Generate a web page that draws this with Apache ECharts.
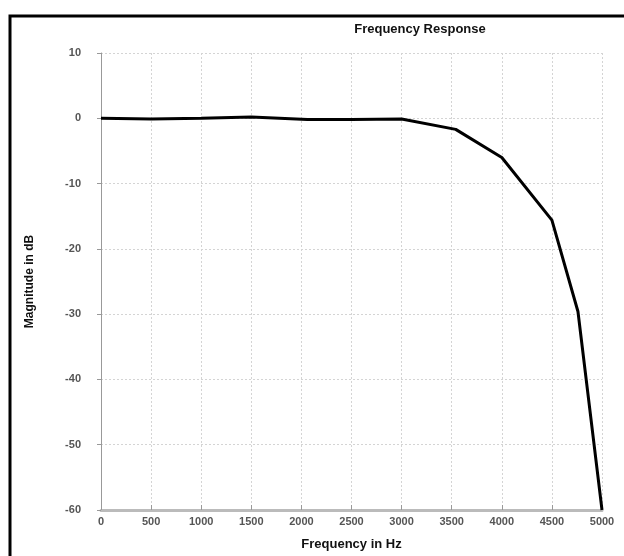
<!DOCTYPE html>
<html><head><meta charset="utf-8">
<script src="https://cdn.jsdelivr.net/npm/echarts@6/dist/echarts.min.js"></script>
<style>html,body{margin:0;padding:0;background:#fff}#c{width:624px;height:556px}</style>
</head><body><div id="c"></div>
<script>
const frequencies = [0, 500, 1000, 1500, 2060, 2500, 3000, 3540, 4000, 4500, 4760, 5000];
const magnitudes  = [0, -0.1, 0, 0.2, -0.2, -0.2, -0.1, -1.7, -6.0, -15.6, -29.6, -60];
const xTicks = [0, 500, 1000, 1500, 2000, 2500, 3000, 3500, 4000, 4500, 5000];
const yTicks = [10, 0, -10, -20, -30, -40, -50, -60];

const chart = echarts.init(document.getElementById('c'), null, {renderer: 'canvas'});
const font = 'Liberation Sans, Arial, sans-serif';
chart.setOption({
  animation: false,
  backgroundColor: '#fff',
  title: {
    text: 'Frequency Response', left: 415, top: 18, textAlign: 'center',
    textStyle: {fontFamily: font, fontSize: 13, fontWeight: 'bold', color: '#111'}
  },
  graphic: [{
    type: 'rect', shape: {x: 10, y: 16, width: 700, height: 600},
    style: {fill: 'none', stroke: '#000', lineWidth: 3}, silent: true
  }],
  grid: {left: 101, right: 22, top: 53, bottom: 46},
  xAxis: {
    type: 'value', min: xTicks[0], max: xTicks[xTicks.length - 1], interval: 500,
    name: 'Frequency in Hz', nameLocation: 'middle', nameGap: 28,
    nameTextStyle: {fontFamily: font, fontSize: 13, fontWeight: 'bold', color: '#111'},
    axisLine: {onZero: false, lineStyle: {color: '#bbb', width: 3}},
    axisTick: {show: true, inside: true, length: 5, lineStyle: {color: '#999'}},
    axisLabel: {fontFamily: font, fontSize: 11, fontWeight: 'bold', color: '#555', margin: 6,
      formatter: v => String(v)},
    splitLine: {show: true, lineStyle: {color: '#d4d4d4', type: [2, 2], width: 1}}
  },
  yAxis: {
    type: 'value', min: yTicks[yTicks.length - 1], max: yTicks[0], interval: 10,
    name: 'Magnitude in dB', nameLocation: 'middle', nameGap: 65, nameRotate: 90,
    nameTextStyle: {fontFamily: font, fontSize: 12, fontWeight: 'bold', color: '#111'},
    axisLine: {show: true, lineStyle: {color: '#999', width: 1}},
    axisTick: {show: true, length: 4, lineStyle: {color: '#999'}},
    axisLabel: {fontFamily: font, fontSize: 11, fontWeight: 'bold', color: '#555', margin: 20},
    splitLine: {show: true, lineStyle: {color: '#d4d4d4', type: [2, 2], width: 1}}
  },
  series: [{
    type: 'line',
    data: frequencies.map((f, i) => [f, magnitudes[i]]),
    symbol: 'none',
    lineStyle: {color: '#000', width: 3},
    z: 5
  }]
});
</script></body></html>
